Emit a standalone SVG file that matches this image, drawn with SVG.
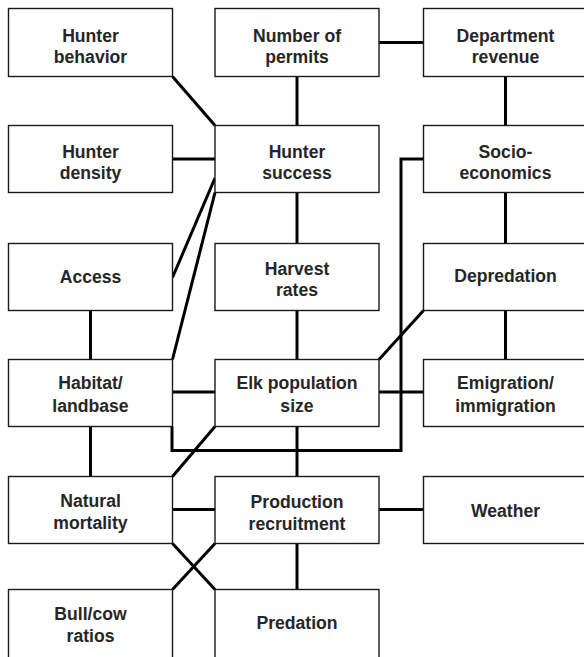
<svg xmlns="http://www.w3.org/2000/svg" width="584" height="657" viewBox="0 0 584 657">
  <style>
    .box { fill: #ffffff; stroke: #1a1a1a; stroke-width: 1.4; }
    .lbl { font-family: "Liberation Sans", Arial, Helvetica, sans-serif; font-weight: bold; font-size: 17.6px; fill: #262626; text-anchor: middle; }
    .link { fill: none; stroke: #000000; stroke-width: 3; stroke-linecap: butt; stroke-linejoin: miter; }
  </style>
  <rect x="0" y="0" width="584" height="657" fill="#ffffff"/>

  <!-- connectors -->
  <g id="connectors" class="link">
    <path d="M172.5,76.5 L215,125.5"/>
    <path d="M297,76.5 L297,125.5"/>
    <path d="M379,42.5 L423.5,42.5"/>
    <path d="M505.5,76.5 L505.5,125.5"/>
    <path d="M172.5,159 L215,159"/>
    <path d="M215,178 L172.5,277.5"/>
    <path d="M215,192.5 L172.5,359.5"/>
    <path d="M297,192.5 L297,243.5"/>
    <path d="M505.5,192.5 L505.5,243.5"/>
    <path d="M423.5,159 L401,159 L401,450.5 L172,450.5 L172,426.5"/>
    <path d="M90.5,310.5 L90.5,359.5"/>
    <path d="M172.5,392 L215,392"/>
    <path d="M297,310.5 L297,359.5"/>
    <path d="M423.5,310.5 L379,359.5"/>
    <path d="M505.5,310.5 L505.5,359.5"/>
    <path d="M379,392 L423.5,392"/>
    <path d="M90.5,426.5 L90.5,476.5"/>
    <path d="M215,426.5 L172.5,476.5"/>
    <path d="M297,426.5 L297,476.5"/>
    <path d="M172.5,509.5 L215,509.5"/>
    <path d="M379,509.5 L423.5,509.5"/>
    <path d="M172.5,543.5 L215,589.5"/>
    <path d="M215,543.5 L172.5,589.5"/>
    <path d="M297,543.5 L297,589.5"/>
  </g>

  <!-- row 1 -->
  <g id="hunter-behavior">
    <rect class="box" x="8.5" y="8.5" width="164" height="68"/>
    <text class="lbl" x="90.5" y="41.7">Hunter</text>
    <text class="lbl" x="90.5" y="63.3">behavior</text>
  </g>
  <g id="number-of-permits">
    <rect class="box" x="215" y="8.5" width="164" height="68"/>
    <text class="lbl" x="297" y="41.7">Number of</text>
    <text class="lbl" x="297" y="63.3">permits</text>
  </g>
  <g id="department-revenue">
    <rect class="box" x="423.5" y="8.5" width="180" height="68"/>
    <text class="lbl" x="505.5" y="41.7">Department</text>
    <text class="lbl" x="505.5" y="63.3">revenue</text>
  </g>

  <!-- row 2 -->
  <g id="hunter-density">
    <rect class="box" x="8.5" y="125.5" width="164" height="67"/>
    <text class="lbl" x="90.5" y="158.3">Hunter</text>
    <text class="lbl" x="90.5" y="178.5">density</text>
  </g>
  <g id="hunter-success">
    <rect class="box" x="215" y="125.5" width="164" height="67"/>
    <text class="lbl" x="297" y="158.3">Hunter</text>
    <text class="lbl" x="297" y="178.5">success</text>
  </g>
  <g id="socio-economics">
    <rect class="box" x="423.5" y="125.5" width="180" height="67"/>
    <text class="lbl" x="505.5" y="158.3">Socio-</text>
    <text class="lbl" x="505.5" y="178.5">economics</text>
  </g>

  <!-- row 3 -->
  <g id="access">
    <rect class="box" x="8.5" y="243.5" width="164" height="67"/>
    <text class="lbl" x="90.5" y="283.3">Access</text>
  </g>
  <g id="harvest-rates">
    <rect class="box" x="215" y="243.5" width="164" height="67"/>
    <text class="lbl" x="297" y="275">Harvest</text>
    <text class="lbl" x="297" y="295.7">rates</text>
  </g>
  <g id="depredation">
    <rect class="box" x="423.5" y="243.5" width="180" height="67"/>
    <text class="lbl" x="505.5" y="282">Depredation</text>
  </g>

  <!-- row 4 -->
  <g id="habitat-landbase">
    <rect class="box" x="8.5" y="359.5" width="164" height="67"/>
    <text class="lbl" x="90.5" y="388.5">Habitat/</text>
    <text class="lbl" x="90.5" y="411.7">landbase</text>
  </g>
  <g id="elk-population-size">
    <rect class="box" x="215" y="359.5" width="164" height="67"/>
    <text class="lbl" x="297" y="388.5">Elk population</text>
    <text class="lbl" x="297" y="411.7">size</text>
  </g>
  <g id="emigration-immigration">
    <rect class="box" x="423.5" y="359.5" width="180" height="67"/>
    <text class="lbl" x="505.5" y="389">Emigration/</text>
    <text class="lbl" x="505.5" y="411.7">immigration</text>
  </g>

  <!-- row 5 -->
  <g id="natural-mortality">
    <rect class="box" x="8.5" y="476.5" width="164" height="67"/>
    <text class="lbl" x="90.5" y="506.5">Natural</text>
    <text class="lbl" x="90.5" y="529.3">mortality</text>
  </g>
  <g id="production-recruitment">
    <rect class="box" x="215" y="476.5" width="164" height="67"/>
    <text class="lbl" x="297" y="508.3">Production</text>
    <text class="lbl" x="297" y="530">recruitment</text>
  </g>
  <g id="weather">
    <rect class="box" x="423.5" y="476.5" width="180" height="67"/>
    <text class="lbl" x="505.5" y="517.3">Weather</text>
  </g>

  <!-- row 6 -->
  <g id="bull-cow-ratios">
    <rect class="box" x="8.5" y="589.5" width="164" height="80"/>
    <text class="lbl" x="90.5" y="620">Bull/cow</text>
    <text class="lbl" x="90.5" y="642.3">ratios</text>
  </g>
  <g id="predation">
    <rect class="box" x="215" y="589.5" width="164" height="80"/>
    <text class="lbl" x="297" y="629.3">Predation</text>
  </g>
</svg>
